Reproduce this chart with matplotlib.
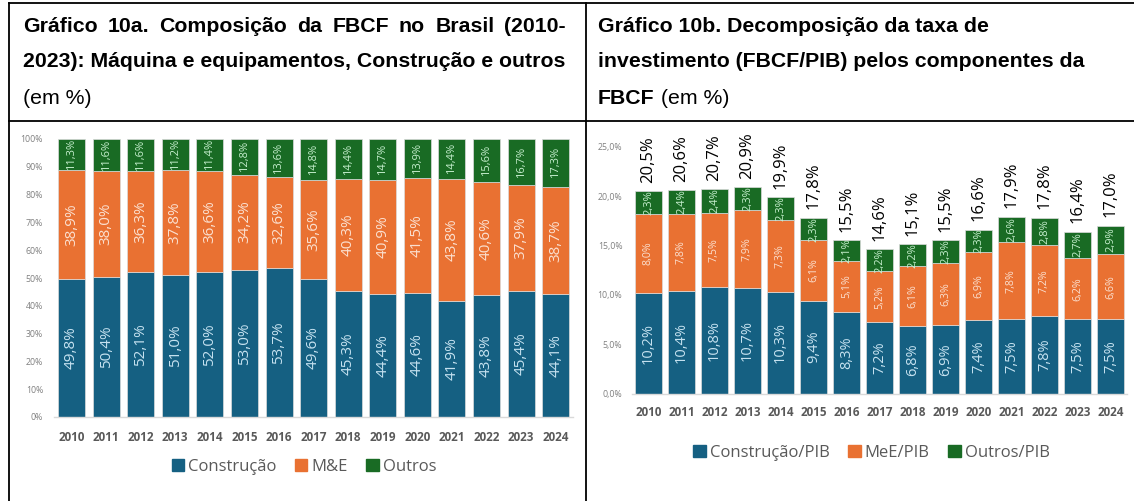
import matplotlib
matplotlib.use('Agg')
import matplotlib.pyplot as plt
from matplotlib.lines import Line2D
from matplotlib.patches import Patch
import numpy as np

# ---------------- data ----------------
years = ['2010', '2011', '2012', '2013', '2014', '2015', '2016', '2017',
         '2018', '2019', '2020', '2021', '2022', '2023', '2024']

# Gráfico 10a – composição (% da FBCF)
constr_share = [49.8, 50.4, 52.1, 51.0, 52.0, 53.0, 53.7, 49.6, 45.3, 44.4, 44.6, 41.9, 43.8, 45.4, 44.1]
me_share = [38.9, 38.0, 36.3, 37.8, 36.6, 34.2, 32.6, 35.6, 40.3, 40.9, 41.5, 43.8, 40.6, 37.9, 38.7]
outros_share = [11.3, 11.6, 11.6, 11.2, 11.4, 12.8, 13.6, 14.8, 14.4, 14.7, 13.9, 14.4, 15.6, 16.7, 17.3]

# Gráfico 10b – componentes (% do PIB)
constr_pib = [10.2, 10.4, 10.8, 10.7, 10.3, 9.4, 8.3, 7.2, 6.8, 6.9, 7.4, 7.5, 7.8, 7.5, 7.5]
me_pib = [8.0, 7.8, 7.5, 7.9, 7.3, 6.1, 5.1, 5.2, 6.1, 6.3, 6.9, 7.8, 7.2, 6.2, 6.6]
outros_pib = [2.3, 2.4, 2.4, 2.3, 2.3, 2.3, 2.1, 2.2, 2.2, 2.3, 2.3, 2.6, 2.8, 2.7, 2.9]
total_pib = [20.5, 20.6, 20.7, 20.9, 19.9, 17.8, 15.5, 14.6, 15.1, 15.5, 16.6, 17.9, 17.8, 16.4, 17.0]

left_ticks = [0, 10, 20, 30, 40, 50, 60, 70, 80, 90, 100]
right_ticks = [0, 5, 10, 15, 20, 25]

legend_left = ['Construção', 'M&E', 'Outros']
legend_right = ['Construção/PIB', 'MeE/PIB', 'Outros/PIB']

# ---------------- style ----------------
W, H = 1134, 501
C1, C2, C3 = '#156082', '#E97132', '#196B24'
L1, L2, L3 = '#C6E2F0', '#FBE0D0', '#C6EFCE'
GRAY = '#595959'
TICKGRAY = '#808080'
CF = 'Open Sans'
TF = 'Liberation Sans'


def fx(px):
    return px / W


def fy(py):
    return 1 - py / H


def fmt(v):
    return f"{v:.1f}".replace('.', ',') + '%'


fig = plt.figure(figsize=(W / 100, H / 100), dpi=100)
renderer = fig.canvas.get_renderer()

# ---------------- table borders ----------------
lw = 1.3
for (x0, y0, x1, y1) in [(9, 2.5, 1134, 2.5), (9, 120.5, 1134, 120.5),
                         (9, 2.5, 9, 501), (585.5, 2.5, 585.5, 501)]:
    fig.add_artist(Line2D([fx(x0), fx(x1)], [fy(y0), fy(y1)], color='black',
                          lw=lw, transform=fig.transFigure))

# ---------------- titles ----------------
tsize = 15.3


def justified(text, x0, x1, ybase, **kw):
    words = text.split(' ')
    arts = [fig.text(0, fy(ybase), w, va='baseline', **kw) for w in words]
    widths = [a.get_window_extent(renderer).width for a in arts]
    gap = (x1 - x0 - sum(widths)) / (len(words) - 1)
    pos = x0
    for a, w in zip(arts, widths):
        a.set_x(fx(pos))
        pos += w + gap


justified('Gráfico 10a. Composição da FBCF no Brasil (2010-', 23, 566, 32,
          fontsize=tsize, fontweight='bold', family=TF)
fig.text(fx(23), fy(67), '2023): Máquina e equipamentos, Construção e outros',
         fontsize=tsize, fontweight='bold', family=TF, va='baseline')
fig.text(fx(23), fy(104), '(em %)', fontsize=tsize, family=TF, va='baseline')

fig.text(fx(598), fy(32), 'Gráfico 10b. Decomposição da taxa de',
         fontsize=tsize, fontweight='bold', family=TF, va='baseline')
fig.text(fx(598), fy(67), 'investimento (FBCF/PIB) pelos componentes da',
         fontsize=tsize, fontweight='bold', family=TF, va='baseline')
t = fig.text(fx(598), fy(104), 'FBCF', fontsize=tsize, fontweight='bold', family=TF, va='baseline')
bb = t.get_window_extent(renderer)
fig.text(bb.x1 / W, fy(104), ' (em %)', fontsize=tsize, family=TF, va='baseline')

x = np.arange(len(years))
edge = dict(edgecolor='#dcdcdc', linewidth=0.5)


def style_axis(ax, ylim, ticks, tlabels, pad_y, pad_x):
    ax.set_xlim(-0.5, len(years) - 0.5)
    ax.set_ylim(*ylim)
    for s in ['top', 'right', 'left']:
        ax.spines[s].set_visible(False)
    ax.spines['bottom'].set_color('#d9d9d9')
    ax.spines['bottom'].set_linewidth(1.0)
    ax.set_yticks(ticks)
    ax.set_yticklabels(tlabels, fontsize=6.3, color=TICKGRAY, family=CF)
    ax.tick_params(axis='y', length=0, pad=pad_y)
    ax.set_xticks(x)
    ax.set_xticklabels(years, fontsize=8.4, fontweight='bold', color=GRAY, family=CF)
    ax.tick_params(axis='x', length=0, pad=pad_x)
    ax.set_facecolor('none')


# ---------------- left chart ----------------
axL = fig.add_axes([fx(54.2), fy(417), (573 - 54.2) / W, 278 / H])
bL1 = axL.bar(x, constr_share, width=0.78, color=C1, **edge)
bL2 = axL.bar(x, me_share, width=0.78, bottom=constr_share, color=C2, **edge)
bL3 = axL.bar(x, outros_share, width=0.78, bottom=np.add(constr_share, me_share), color=C3, **edge)
axL.bar_label(bL1, labels=[fmt(v) for v in constr_share], label_type='center',
              rotation=90, color=L1, fontsize=11, family=CF)
axL.bar_label(bL2, labels=[fmt(v) for v in me_share], label_type='center',
              rotation=90, color=L2, fontsize=11, family=CF)
axL.bar_label(bL3, labels=[fmt(v) for v in outros_share], label_type='center',
              rotation=90, color=L3, fontsize=8, family=CF)
style_axis(axL, (0, 100), left_ticks, [f"{v}%" for v in left_ticks], 8, 10)

fig.legend(handles=[Patch(color=c) for c in (C1, C2, C3)], labels=legend_left,
           loc='center', bbox_to_anchor=(fx(304), fy(467)), ncol=3, frameon=False,
           prop={'family': CF, 'size': 12}, labelcolor=GRAY,
           handlelength=0.75, handleheight=0.75, handletextpad=0.25, columnspacing=1.1)

# ---------------- right chart ----------------
axR = fig.add_axes([fx(632), fy(393.5), 495 / W, 246.8 / H])
bR1 = axR.bar(x, constr_pib, width=0.82, color=C1, **edge)
bR2 = axR.bar(x, me_pib, width=0.82, bottom=constr_pib, color=C2, **edge)
bR3 = axR.bar(x, outros_pib, width=0.82, bottom=np.add(constr_pib, me_pib), color=C3, **edge)
axR.bar_label(bR1, labels=[fmt(v) for v in constr_pib], label_type='center',
              rotation=90, color=L1, fontsize=10.5, family=CF)
axR.bar_label(bR2, labels=[fmt(v) for v in me_pib], label_type='center',
              rotation=90, color=L2, fontsize=7.7, family=CF)
axR.bar_label(bR3, labels=[fmt(v) for v in outros_pib], label_type='center',
              rotation=90, color=L3, fontsize=8, family=CF)
tot = axR.bar_label(bR3, labels=[fmt(v) for v in total_pib], label_type='edge',
                    padding=6, rotation=90, color='black', fontsize=12, family=CF)
for tt in tot:
    tt.set_clip_on(False)
style_axis(axR, (0, 25), right_ticks, [f"{v},0%" for v in right_ticks], 7, 9)

fig.legend(handles=[Patch(color=c) for c in (C1, C2, C3)], labels=legend_right,
           loc='center', bbox_to_anchor=(fx(871.5), fy(452.7)), ncol=3, frameon=False,
           prop={'family': CF, 'size': 12}, labelcolor=GRAY,
           handlelength=0.75, handleheight=0.75, handletextpad=0.25, columnspacing=1.1)

fig.savefig('out.png', dpi=100)
